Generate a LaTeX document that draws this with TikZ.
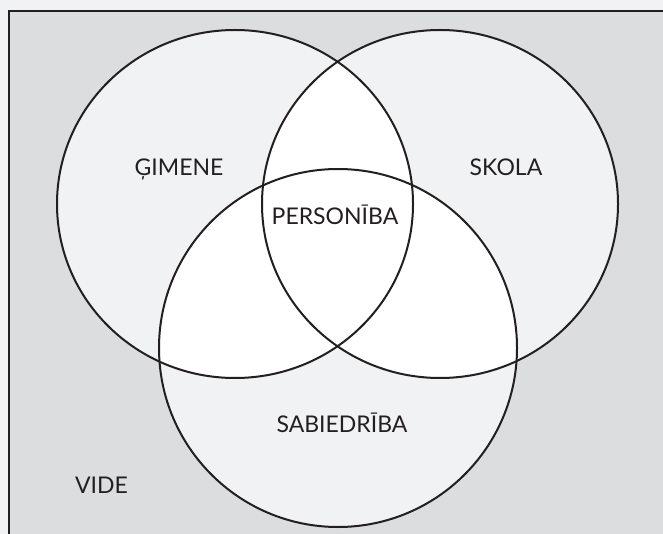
\documentclass[tikz,border=0pt]{standalone}
\usepackage{fontspec}
\setmainfont{Lato}
\definecolor{paper}{HTML}{F1F2F3}
\definecolor{field}{HTML}{DCDDDF}
\definecolor{single}{HTML}{F1F2F3}
\definecolor{ink}{HTML}{231F20}
\tikzset{
  frame/.style={draw=ink, line width=2pt},
  ring/.style={draw=ink, line width=2pt},
  lbl/.style={text=ink, font=\fontsize{23}{27}\selectfont, inner sep=0pt, anchor=base}
}
\begin{document}
\begin{tikzpicture}[x=1pt,y=-1pt]
\useasboundingbox (0,0) rectangle (663,534);
\clip (0,0) rectangle (663,534);
\fill[paper] (0,0) rectangle (663,534);

% surrounding environment
\filldraw[frame, fill=field] (9,11.5) rectangle (720,600);

% the three sets
\def\famA{(235,204) ellipse [x radius=178, y radius=174]}
\def\famB{(440,204) ellipse [x radius=178, y radius=174]}
\def\famC{(338,348) ellipse [x radius=179, y radius=179]}

\fill[single] \famA;
\fill[single] \famB;
\fill[single] \famC;

% pairwise overlaps are left white
\begin{scope}\clip \famA; \fill[white] \famB; \fill[white] \famC;\end{scope}
\begin{scope}\clip \famB; \fill[white] \famC;\end{scope}

\draw[ring] \famA;
\draw[ring] \famB;
\draw[ring] \famC;

\node[lbl] (gimene) at (179,176) {ĢIMENE};
\node[lbl] (skola) at (506,176) {SKOLA};
\node[lbl] (personiba) at (335,225) {PERSONĪBA};
\node[lbl] (sabiedriba) at (342,432) {SABIEDRĪBA};
\node[lbl] (vide) at (101.5,493) {VIDE};
\end{tikzpicture}
\end{document}
